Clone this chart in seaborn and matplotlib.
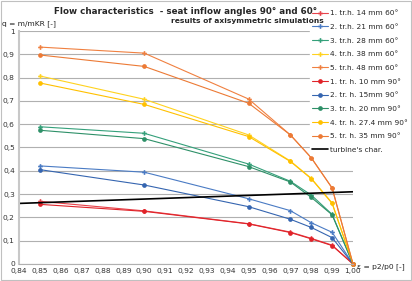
import numpy as np
import pandas as pd
import matplotlib
matplotlib.use('Agg')
import matplotlib.pyplot as plt
import seaborn as sns
from matplotlib.ticker import FuncFormatter, MultipleLocator

# data
eps = [0.85, 0.90, 0.95, 0.97, 0.98, 0.99, 1.00]

red_60 = [0.269, 0.228, 0.173, 0.137, 0.110, 0.081, 0.0]
blue_60 = [0.421, 0.394, 0.280, 0.229, 0.177, 0.136, 0.0]
green_60 = [0.589, 0.561, 0.429, 0.355, 0.296, 0.213, 0.0]
yellow_60 = [0.807, 0.707, 0.554, 0.442, 0.368, 0.262, 0.0]
orange_60 = [0.931, 0.905, 0.708, 0.554, 0.456, 0.326, 0.0]

red_90 = [0.256, 0.226, 0.172, 0.135, 0.108, 0.079, 0.0]
blue_90 = [0.405, 0.339, 0.246, 0.192, 0.157, 0.113, 0.0]
green_90 = [0.574, 0.538, 0.418, 0.352, 0.286, 0.211, 0.0]
yellow_90 = [0.777, 0.685, 0.547, 0.440, 0.366, 0.260, 0.0]
orange_90 = [0.897, 0.848, 0.690, 0.554, 0.456, 0.326, 0.0]

turbine_x = [0.84, 1.00]
turbine_y = [0.260, 0.310]

labels_60 = ['1. tr.h. 14 mm 60°', '2. tr.h. 21 mm 60°', '3. tr.h. 28 mm 60°',
             '4. tr.h. 38 mm 60°', '5. tr.h. 48 mm 60°']
labels_90 = ['1. tr. h. 10 mm 90°', '2. tr. h. 15mm 90°', '3. tr. h. 20 mm 90°',
             '4. tr. h. 27.4 mm 90°', '5. tr. h. 35 mm 90°']

colors_60 = ['#E8434B', '#4A7BC4', '#34A07A', '#FFD21F', '#F08040']
colors_90 = ['#E02329', '#3565B0', '#2E9068', '#FFC000', '#EC7A35']

sns.set_style('white')
plt.rcParams['font.family'] = ['DejaVu Sans']

fig = plt.figure(figsize=(4.12, 2.81), dpi=100)
ax = fig.add_axes([19 / 412, 1 - 264 / 281, (353 - 19) / 412, (264 - 31) / 281])

series_60 = [red_60, blue_60, green_60, yellow_60, orange_60]
series_90 = [red_90, blue_90, green_90, yellow_90, orange_90]

for vals, lab, col in zip(series_60, labels_60, colors_60):
    df = pd.DataFrame({'eps': eps, 'q': vals})
    sns.lineplot(data=df, x='eps', y='q', ax=ax, color=col, lw=0.8, marker='P',
                 markersize=3.4, markeredgewidth=0, label=lab, clip_on=False)
for vals, lab, col in zip(series_90, labels_90, colors_90):
    df = pd.DataFrame({'eps': eps, 'q': vals})
    sns.lineplot(data=df, x='eps', y='q', ax=ax, color=col, lw=0.8, marker='o',
                 markersize=3.4, markeredgewidth=0, label=lab, clip_on=False)

sns.lineplot(x=turbine_x, y=turbine_y, ax=ax, color='black', lw=1.2,
             label="turbine's char.")

ax.set_xlim(0.84, 1.00)
ax.set_ylim(0, 1)
ax.xaxis.set_major_locator(MultipleLocator(0.01))
ax.yaxis.set_major_locator(MultipleLocator(0.1))
ax.xaxis.set_major_formatter(FuncFormatter(lambda v, p: f'{v:.2f}'.replace('.', ',')))
ax.yaxis.set_major_formatter(FuncFormatter(
    lambda v, p: '0' if abs(v) < 1e-9 else ('1' if abs(v - 1) < 1e-9 else f'{v:.1f}'.replace('.', ','))))
ax.tick_params(labelsize=5.4, length=0, pad=3, colors='#333333')
ax.grid(axis='y', color='#b0b0b0', lw=0.8)
ax.set_axisbelow(True)
for s in ['top', 'right']:
    ax.spines[s].set_visible(False)
ax.spines['left'].set_color('#c8c8c8')
ax.spines['left'].set_linewidth(1.5)
ax.spines['bottom'].set_color('#b0b0b0')
ax.set_xlabel('')
ax.set_ylabel('')

fig.text(2 / 412, 1 - 24 / 281, 'q = m/mKR [-]', fontsize=5.4, va='center', ha='left', color='#222222')
fig.text(357 / 412, 1 - 267 / 281, 'ε = p2/p0 [-]', fontsize=5.4, va='center', ha='left', color='#222222')
fig.text(186 / 412, 1 - 11 / 281, 'Flow characteristics  - seat inflow angles 90° and 60°',
         fontsize=6.3, fontweight='bold', ha='center', va='center')
fig.text(324 / 412, 1 - 21 / 281, 'results of axisymmetric simulations',
         fontsize=5.4, fontweight='bold', ha='right', va='center')

leg = ax.legend(loc='upper left', bbox_to_anchor=(310 / 412, 1 - 8 / 281),
                bbox_transform=fig.transFigure, fontsize=5.3, frameon=True,
                handlelength=2.2, handletextpad=0.2, labelspacing=1.02,
                borderpad=0.3, borderaxespad=0)
leg.get_frame().set_edgecolor('white')
leg.get_frame().set_facecolor('white')
leg.get_frame().set_alpha(1)

fig.patches.append(plt.Rectangle((0.002, 0.003), 0.995, 0.994, transform=fig.transFigure,
                                 fill=False, edgecolor='#c0c0c0', lw=0.8))

fig.savefig('out.png', dpi=100)
